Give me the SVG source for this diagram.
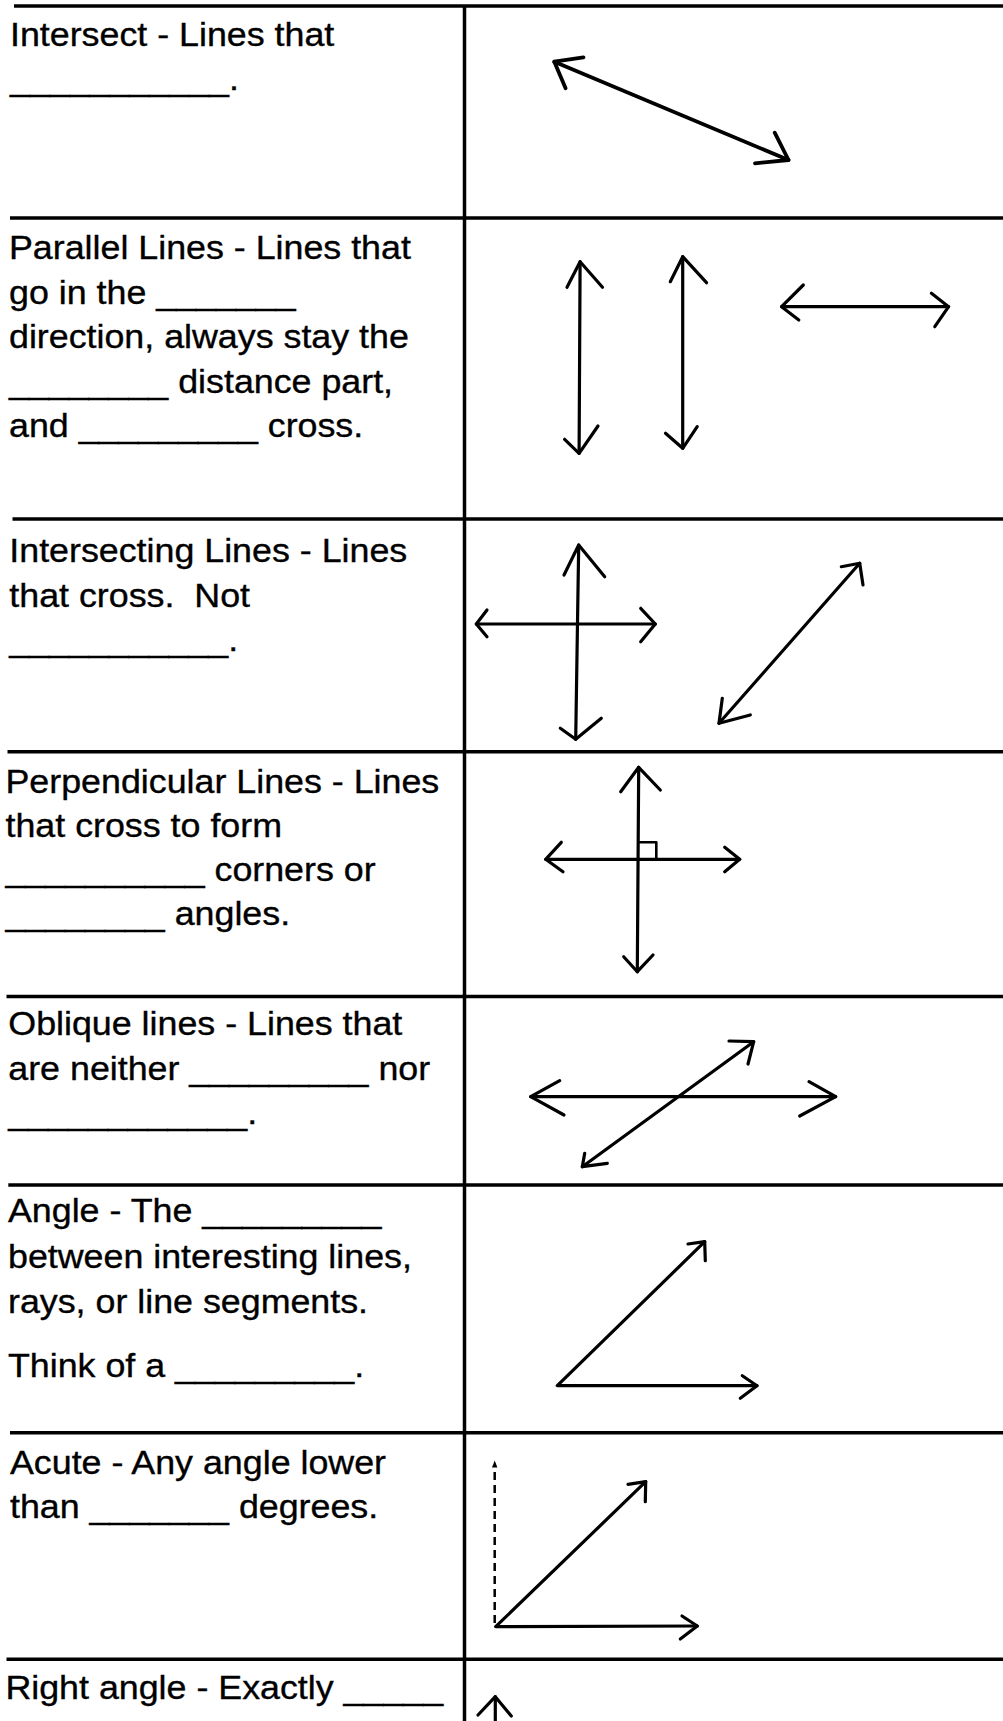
<svg xmlns="http://www.w3.org/2000/svg" width="1003" height="1721" viewBox="0 0 1003 1721">
<style>
  .grid line { stroke: #000; stroke-width: 3.5; }
  .vline { stroke: #000; stroke-width: 3; }
  .t { font-family: "Liberation Sans", Arial, sans-serif; font-size: 33.5px; fill: #000; stroke: #000; stroke-width: 0.35; }
  .a { fill: none; stroke: #000; stroke-width: 3.2; stroke-linecap: round; stroke-linejoin: round; }
  .thick { stroke-width: 3.8; }
  .thin { stroke-width: 2.6; }
  .dash { fill: none; stroke: #000; stroke-width: 2.5; stroke-dasharray: 8 5; }
</style>
<rect width="1003" height="1721" fill="#fff"/>
<g id="grid" class="grid">
  <line x1="14" y1="6" x2="1003" y2="6"/>
  <line x1="10" y1="218" x2="1003" y2="218"/>
  <line x1="12.5" y1="519" x2="1003" y2="519"/>
  <line x1="7.5" y1="751.7" x2="1003" y2="751.7"/>
  <line x1="6.5" y1="996.5" x2="1003" y2="996.5"/>
  <line x1="8.3" y1="1185" x2="1003" y2="1185"/>
  <line x1="10" y1="1432.7" x2="1003" y2="1432.7"/>
  <line x1="6.5" y1="1659.3" x2="1003" y2="1659.3"/>
  <line class="vline" x1="464.5" y1="5" x2="464.5" y2="1721"/>
</g>
<g id="connectors">
  <g id="arrows-intersect">
    <line class="a thick" x1="554.3" y1="61.7" x2="788.5" y2="160"/>
    <polyline class="a thick" points="583.5,57.3 554.3,61.7 565.6,88.3"/>
    <polyline class="a thick" points="755,163.3 788.5,160 774.7,132.7"/>
  </g>
  <g id="arrows-parallel">
    <line class="a" x1="580.1" y1="261.7" x2="579.1" y2="453.3"/>
    <polyline class="a" points="567,287.3 580.1,261.7 602.5,287.3"/>
    <polyline class="a" points="564.6,439.3 579.1,453.3 598,426"/>
    <line class="a" x1="682.7" y1="256.7" x2="682.7" y2="448.3"/>
    <polyline class="a" points="670.3,281.7 682.7,256.7 706.5,282.7"/>
    <polyline class="a" points="665.5,433.3 682.7,448.3 697.2,426.7"/>
    <line class="a" x1="781.6" y1="306.7" x2="948.6" y2="306.7"/>
    <polyline class="a" points="803.3,285 781.6,306.7 798.8,320"/>
    <polyline class="a" points="931.4,293.3 948.6,306.7 934.8,326.7"/>
  </g>
  <g id="arrows-intersecting">
    <line class="a" x1="578.7" y1="545" x2="575.7" y2="739.3"/>
    <polyline class="a" points="564,575 578.7,545 604.7,576.7"/>
    <polyline class="a" points="560.3,728.3 575.7,739.3 601.3,718.3"/>
    <line class="a" x1="476.3" y1="624" x2="655.3" y2="624"/>
    <polyline class="a" points="487,610 476.3,624 487,636.7"/>
    <polyline class="a" points="640.7,608.3 655.3,624 640.7,641.7"/>
    <line class="a" x1="859.7" y1="563.3" x2="719" y2="723.3"/>
    <polyline class="a" points="841.3,566.7 859.7,563.3 863,585"/>
    <polyline class="a" points="722.3,698.3 719,723.3 750.3,715"/>
  </g>
  <g id="arrows-perpendicular">
    <line class="a" x1="638.7" y1="767.3" x2="637.3" y2="971.7"/>
    <polyline class="a" points="620.7,791.7 638.7,767.3 660.3,790"/>
    <polyline class="a" points="623.7,956.7 637.3,971.7 653,955"/>
    <line class="a" x1="545.7" y1="859.3" x2="739.7" y2="859.3"/>
    <polyline class="a" points="561.3,842.3 545.7,859.3 563,871.7"/>
    <polyline class="a" points="724.7,847.3 739.7,859.3 724.7,871.7"/>
    <polyline class="a thin" points="638.7,842.3 656.3,842.3 656.3,859.3"/>
  </g>
  <g id="arrows-oblique">
    <line class="a" x1="530.7" y1="1096.7" x2="835.7" y2="1096.7"/>
    <polyline class="a" points="559.7,1080.7 530.7,1096.7 564,1115"/>
    <polyline class="a" points="809,1081.7 835.7,1096.7 799.7,1116"/>
    <line class="a" x1="753.7" y1="1041.7" x2="582.3" y2="1166.7"/>
    <polyline class="a" points="729,1041 753.7,1041.7 748,1064"/>
    <polyline class="a" points="584.7,1153.3 582.3,1166.7 607.3,1163.3"/>
  </g>
  <g id="arrows-angle">
    <polyline class="a" points="704.7,1241.7 557.3,1385.7 757,1385.7"/>
    <polyline class="a" points="688,1244 704.7,1241.7 705.3,1260.7"/>
    <polyline class="a" points="742.3,1375.7 757,1385.7 740.3,1398.3"/>
  </g>
  <g id="arrows-acute">
    <line class="dash" x1="494.7" y1="1623" x2="494.7" y2="1467"/>
    <polygon points="494.7,1460.5 492,1467.5 497.4,1467.5" fill="#000"/>
    <polyline class="a" points="645.7,1481.7 495.7,1626.7 697.3,1626"/>
    <polyline class="a" points="628,1484.3 645.7,1481.7 645.3,1501.7"/>
    <polyline class="a" points="682,1616 697.3,1626 680.3,1639"/>
  </g>
  <g id="arrows-right">
    <line class="a" x1="495.3" y1="1696.7" x2="495.3" y2="1725"/>
    <polyline class="a" points="478,1715 495.3,1696.7 511.3,1716"/>
  </g>
</g>
<g transform="scale(1.069,1)">
  <g id="row-intersect" class="t">
    <text x="9.35" y="46">Intersect - Lines that</text>
    <text x="9.35" y="90.5">___________.</text>
  </g>
  <g id="row-parallel" class="t">
    <text x="8.42" y="259.3">Parallel Lines - Lines that</text>
    <text x="8.42" y="303.8">go in the _______</text>
    <text x="8.42" y="348.3">direction, always stay the</text>
    <text x="8.42" y="392.8">________ distance part,</text>
    <text x="8.42" y="437.3">and _________ cross.</text>
  </g>
  <g id="row-intersecting" class="t">
    <text x="8.7" y="561.7">Intersecting Lines - Lines</text>
    <text x="8.7" y="606.7" xml:space="preserve">that cross.  Not</text>
    <text x="8.7" y="651.2">___________.</text>
  </g>
  <g id="row-perpendicular" class="t">
    <text x="5.14" y="792.7">Perpendicular Lines - Lines</text>
    <text x="5.14" y="836.7">that cross to form</text>
    <text x="5.14" y="881">__________ corners or</text>
    <text x="5.14" y="925">________ angles.</text>
  </g>
  <g id="row-oblique" class="t">
    <text x="7.76" y="1035">Oblique lines - Lines that</text>
    <text x="7.76" y="1080">are neither _________ nor</text>
    <text x="7.76" y="1124.5">____________.</text>
  </g>
  <g id="row-angle" class="t">
    <text x="7.48" y="1222.3">Angle - The _________</text>
    <text x="7.48" y="1267.7">between interesting lines,</text>
    <text x="7.48" y="1312.7">rays, or line segments.</text>
    <text x="7.48" y="1377.3">Think of a _________.</text>
  </g>
  <g id="row-acute" class="t">
    <text x="9.35" y="1474">Acute - Any angle lower</text>
    <text x="9.35" y="1518.3">than _______ degrees.</text>
  </g>
  <g id="row-right" class="t">
    <text x="5.05" y="1699.3">Right angle - Exactly _____</text>
  </g>
</g>
</svg>
